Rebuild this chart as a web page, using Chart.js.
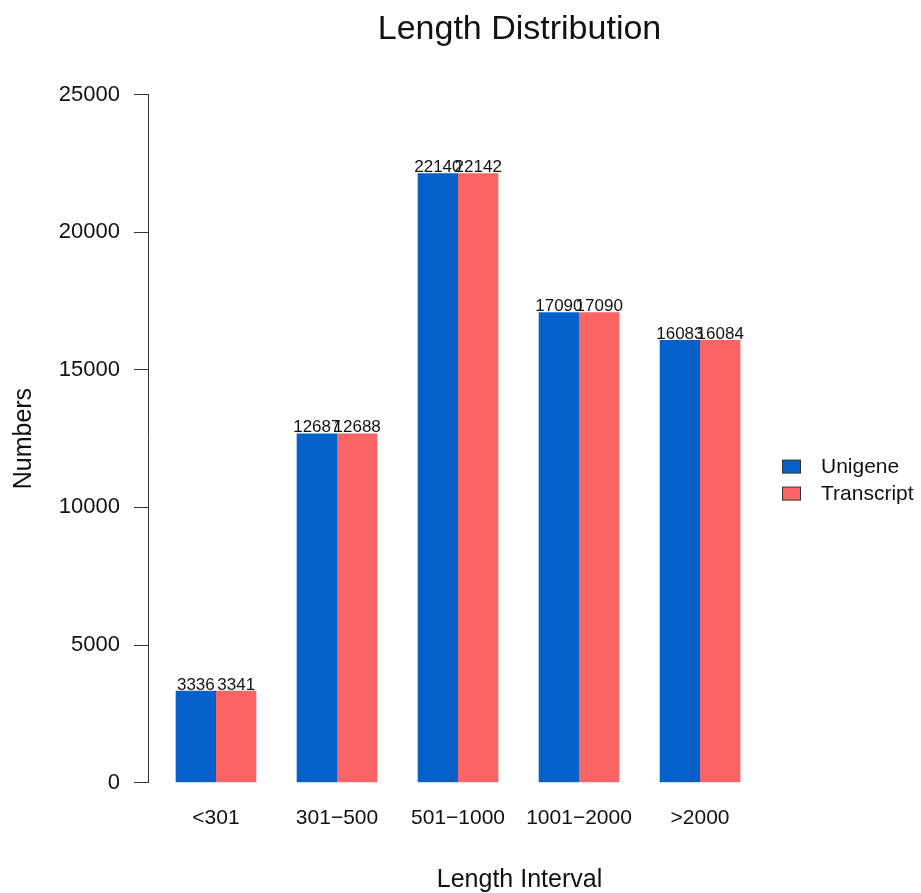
<!DOCTYPE html>
<html>
<head>
<meta charset="utf-8">
<script src="https://cdn.jsdelivr.net/npm/chart.js@4"></script>
<style>
  body { margin: 0; background: #fff; }
  #wrap { width: 921px; height: 893px; }
</style>
</head>
<body>
<div id="wrap"><canvas id="length-chart"></canvas></div>
<script>
const intervals  = ["<301", "301\u2212500", "501\u22121000", "1001\u22122000", ">2000"]
const unigene    = [3336, 12687, 22140, 17090, 16083]
const transcript = [3341, 12688, 22142, 17090, 16084]
const yTicks     = [0, 5000, 10000, 15000, 20000, 25000]

const FONT = '"Liberation Sans", Arial, sans-serif'

// numbers printed on top of each bar
const valueLabels = {
    id: 'valueLabels',
    afterDatasetsDraw(chart) {
        const ctx = chart.ctx
        ctx.save()
        ctx.font = '17px ' + FONT
        ctx.fillStyle = '#111'
        ctx.textAlign = 'center'
        ctx.textBaseline = 'alphabetic'
        chart.data.datasets.forEach((ds, i) => {
            chart.getDatasetMeta(i).data.forEach((bar, j) => {
                ctx.fillText(ds.data[j].y, bar.x, bar.y - 1)
            })
        })
        ctx.restore()
    }
}

// R-style legend on the right, middle height
const sideLegend = {
    id: 'sideLegend',
    afterDraw(chart) {
        const ctx = chart.ctx
        const area = chart.chartArea
        const x = area.right - 109
        let y = (area.top + area.bottom) / 2 + 28
        ctx.save()
        ctx.font = '21px ' + FONT
        ctx.textBaseline = 'middle'
        ctx.textAlign = 'left'
        chart.data.datasets.forEach(ds => {
            ctx.fillStyle = ds.backgroundColor
            ctx.fillRect(x, y - 6.5, 18, 13)
            ctx.strokeStyle = '#333'
            ctx.lineWidth = 1
            ctx.strokeRect(x + 0.5, y - 6.5, 18, 13)
            ctx.fillStyle = '#111'
            ctx.fillText(ds.label, x + 39, y + 1)
            y += 27
        })
        ctx.restore()
    }
}

const config = {
    type: 'bar',
    data: {
        datasets: [{
            label: "Unigene",
            backgroundColor: "#0561C9",
            data: unigene.map((v, i) => ({x: i, y: v}))
        }, {
            label: "Transcript",
            backgroundColor: "#FA6464",
            data: transcript.map((v, i) => ({x: i, y: v}))
        }]
    },
    options: {
        responsive: true,
        maintainAspectRatio: false,
        animation: false,
        devicePixelRatio: 1,
        categoryPercentage: 2 / 3,
        barPercentage: 1,
        layout: {padding: {left: 0, right: 30, top: 0, bottom: 0}},
        plugins: {
            legend: {display: false},
            tooltip: {enabled: false},
            title: {
                display: true,
                text: "Length Distribution",
                fullSize: false,
                color: '#111',
                font: {family: FONT, size: 34, weight: 'normal', lineHeight: 1.2},
                padding: {top: 9, bottom: 44.7}
            }
        },
        scales: {
            x: {
                type: 'linear',
                offset: false,
                min: -0.562,
                max: 5.578,
                grid: {display: false},
                border: {display: false},
                afterBuildTicks: axis => { axis.ticks = intervals.map((_, i) => ({value: i})) },
                afterFit: axis => { axis.height = 110.3 },
                ticks: {
                    autoSkip: false,
                    maxRotation: 0,
                    padding: 15,
                    color: '#111',
                    font: {family: FONT, size: 21},
                    callback: v => intervals[v]
                },
                title: {
                    display: true,
                    text: "Length Interval",
                    color: '#111',
                    font: {family: FONT, size: 25, lineHeight: 1},
                    padding: {top: 0, bottom: 0}
                }
            },
            y: {
                min: 0,
                max: 25000,
                afterBuildTicks: axis => { axis.ticks = yTicks.map(v => ({value: v})) },
                afterFit: axis => { axis.width = 148 },
                grid: {drawOnChartArea: false, tickLength: 14, color: '#333'},
                border: {color: '#333'},
                ticks: {
                    padding: 14,
                    color: '#111',
                    font: {family: FONT, size: 22},
                    callback: v => String(v)
                },
                title: {
                    display: true,
                    text: "Numbers",
                    color: '#111',
                    font: {family: FONT, size: 25, lineHeight: 1},
                    padding: {top: 12, bottom: 0}
                }
            }
        }
    },
    plugins: [valueLabels, sideLegend]
}

new Chart(document.getElementById("length-chart"), config)
</script>
</body>
</html>
